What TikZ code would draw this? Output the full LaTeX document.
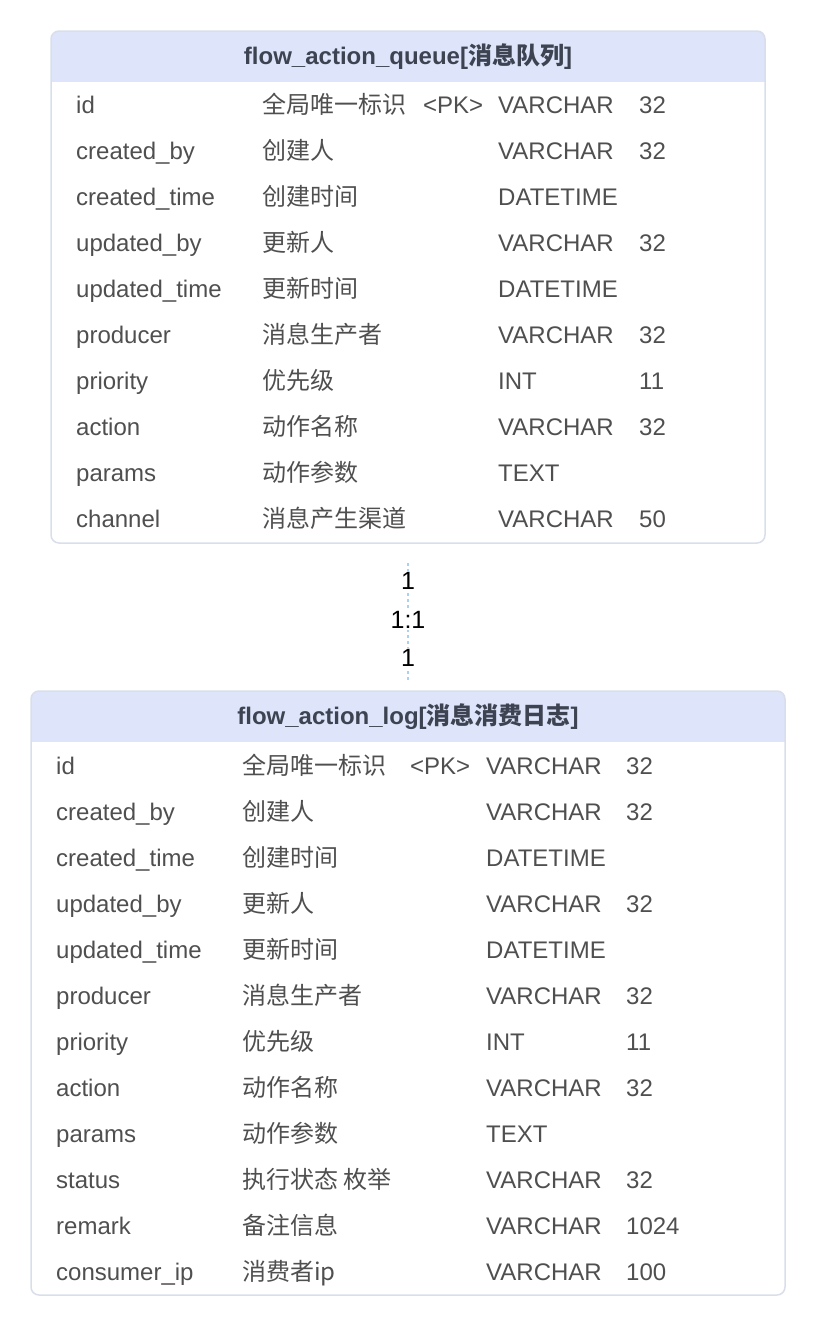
\documentclass[tikz,border=0pt]{standalone}
\usepackage{fontspec}
\setmainfont{Liberation Sans}
\newfontfamily\cjk{Noto Sans CJK SC}
\usepackage{tikz}
\usetikzlibrary{positioning}

\definecolor{headfill}{HTML}{DEE5FB}
\definecolor{tabline}{HTML}{D9DEEA}
\definecolor{celltext}{HTML}{4F4F4F}
\definecolor{titletext}{HTML}{3D4350}
\definecolor{linkline}{HTML}{A9D2F2}

\begin{document}
\begin{tikzpicture}[
  x=1pt, y=-1pt,
  node distance=148pt,
  tablebox/.style={inner sep=0pt, outer sep=0pt, minimum width=#1},
  tableline/.style={draw=tabline, line width=1.5pt, rounded corners=8pt},
  cell/.style={anchor=base west, inner sep=0pt, font=\fontsize{24}{28}\selectfont, text=celltext},
  title/.style={font=\fontsize{24}{28}\selectfont\bfseries, text=titletext},
  link/.style={draw=linkline, line width=1.5pt, dash pattern=on 3pt off 3pt},
  card/.style={font=\fontsize{25}{29}\selectfont, fill=white, inner sep=1pt, text=black}
]
\useasboundingbox (0,0) rectangle (815,1325);

% tables
\node[tablebox=714pt, minimum height=512pt] (queue) at (408,287) {};
\node[tablebox=754pt, minimum height=604pt, below=of queue] (log) {};

% headers
\begin{scope}
  \clip[rounded corners=8pt] (queue.north west) rectangle (queue.south east);
  \fill[headfill] (queue.north west) rectangle ([yshift=-51pt]queue.north east);
\end{scope}
\begin{scope}
  \clip[rounded corners=8pt] (log.north west) rectangle (log.south east);
  \fill[headfill] (log.north west) rectangle ([yshift=-51pt]log.north east);
\end{scope}
\draw[tableline] (queue.north west) rectangle (queue.south east);
\draw[tableline] (log.north west) rectangle (log.south east);

\node[title] (queuetitle) at ([yshift=-26pt]queue.north) {flow\_action\_queue[{\cjk\bfseries 消息队列}]};
\node[title] (logtitle) at ([yshift=-26pt]log.north) {flow\_action\_log[{\cjk\bfseries 消息消费日志}]};

% queue rows
\foreach \name/\note/\type/\len [count=\i from 0] in {
  id/全局唯一标识/VARCHAR/32, created\_by/创建人/VARCHAR/32,
  created\_time/创建时间/DATETIME/{}, updated\_by/更新人/VARCHAR/32,
  updated\_time/更新时间/DATETIME/{}, producer/消息生产者/VARCHAR/32,
  priority/优先级/INT/11, action/动作名称/VARCHAR/32,
  params/动作参数/TEXT/{}, channel/消息产生渠道/VARCHAR/50} {
  \node[cell] (qname\i) at (76,{113+46*\i}) {\name};
  \node[cell] (qnote\i) at (262,{113+46*\i}) {\cjk\note};
  \node[cell] (qtype\i) at (498,{113+46*\i}) {\type};
  \node[cell] (qlen\i) at (639,{113+46*\i}) {\len};
}
\node[cell] (qpk) at (423,113) {<PK>};

% log rows
\foreach \name/\note/\type/\len [count=\i from 0] in {
  id/全局唯一标识/VARCHAR/32, created\_by/创建人/VARCHAR/32,
  created\_time/创建时间/DATETIME/{}, updated\_by/更新人/VARCHAR/32,
  updated\_time/更新时间/DATETIME/{}, producer/消息生产者/VARCHAR/32,
  priority/优先级/INT/11, action/动作名称/VARCHAR/32,
  params/动作参数/TEXT/{}, status/执行状态 枚举/VARCHAR/32,
  remark/备注信息/VARCHAR/1024, consumer\_ip/消费者ip/VARCHAR/100} {
  \node[cell] (lname\i) at (56,{774+46*\i}) {\name};
  \node[cell] (lnote\i) at (242,{774+46*\i}) {\cjk\note};
  \node[cell] (ltype\i) at (486,{774+46*\i}) {\type};
  \node[cell] (llen\i) at (626,{774+46*\i}) {\len};
}
\node[cell] (lpk) at (410,774) {<PK>};

% relation
\draw[link, shorten <=20pt, shorten >=11pt] (queue.south) --
  node[card, pos=.257] (srccard) {1}
  node[card, pos=.52] (relcard) {1:1}
  node[card, pos=.777] (dstcard) {1} (log.north);
\end{tikzpicture}
\end{document}
